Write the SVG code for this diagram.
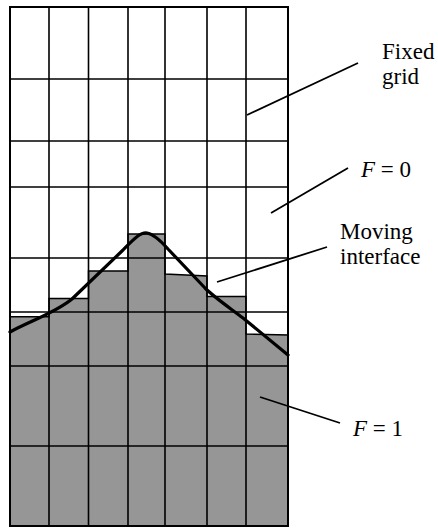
<svg xmlns="http://www.w3.org/2000/svg" width="438" height="528" viewBox="0 0 438 528">
<style>
.grid{stroke:#000;stroke-width:1.6;fill:none}
.fluid{fill:#969696;stroke:#000;stroke-width:1.4;stroke-linejoin:miter}
.iface{fill:none;stroke:#000;stroke-width:3.2;stroke-linejoin:round;stroke-linecap:round}
.lead{stroke:#000;stroke-width:1.8;fill:none}
.lbl{font-family:"Liberation Serif","Times New Roman",serif;font-size:23px;fill:#000}
</style>
<rect width="438" height="528" fill="#fff"/>
<g id="fluid">
<path class="fluid" d="M10,526 L10,316.7 L49,316.7 L49,298.5 L88.5,298.5 L88.5,271 L128,271 L128,234 L165,234 L165,274 L207,276 L207,296.5 L246,296.5 L246,334 L288,335 L288,526 Z"/>
</g>
<g id="fixed-grid">
<path class="grid" d="M49,7V526 M88.5,7V526 M128,7V526 M165,7V526 M207,7V526 M246,7V526 M10,79H288 M10,141H288 M10,187H288 M10,258H288 M10,312H288 M10,366H288 M10,446H288"/>
<rect x="10" y="7" width="278" height="519" fill="none" stroke="#000" stroke-width="2"/>
</g>
<g id="moving-interface">
<path class="iface" d="M10,332 C30,321 55,313 72,299 L122,251 C133,240 140,232 147,233 C153,234 160,240 168,249 L205,288 C215,298 230,308 243,318 L288,355"/>
</g>
<g id="connectors">
<line class="lead" x1="247" y1="115" x2="358" y2="63"/>
<line class="lead" x1="271" y1="213" x2="348" y2="168"/>
<line class="lead" x1="217" y1="282" x2="327" y2="247"/>
<line class="lead" x1="260" y1="397" x2="340" y2="423"/>
</g>
<g id="label-fixed-grid">
<text class="lbl" x="382" y="59">Fixed</text>
<text class="lbl" x="382" y="84">grid</text>
</g>
<g id="label-f0">
<text class="lbl" x="361" y="177"><tspan font-style="italic">F</tspan> = 0</text>
</g>
<g id="label-moving-interface">
<text class="lbl" x="340" y="239">Moving</text>
<text class="lbl" x="340" y="264">interface</text>
</g>
<g id="label-f1">
<text class="lbl" x="353" y="436"><tspan font-style="italic">F</tspan> = 1</text>
</g>
</svg>
